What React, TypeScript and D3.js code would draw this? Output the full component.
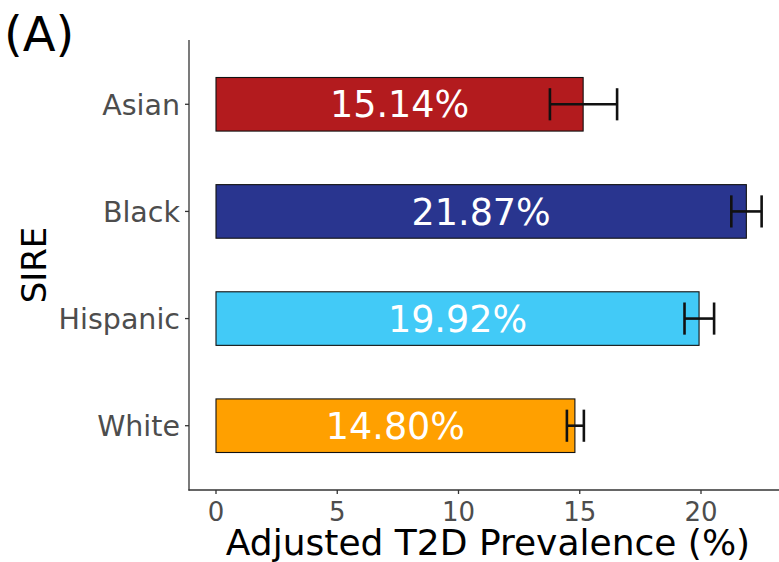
import React from "react";
import * as d3 from "d3";

const categories = ["Asian", "Black", "Hispanic", "White"];
const prevalence = [15.14, 21.87, 19.92, 14.8];
const ciLower = [13.77, 21.25, 19.32, 14.47];
const ciUpper = [16.54, 22.5, 20.54, 15.17];
const fills = ["#B31B1E", "#29358F", "#42CAF7", "#FFA000"];
const xTicks = [0, 5, 10, 15, 20];

const W = 779;
const H = 562;
const panel = { left: 189, right: 779, top: 40, bottom: 490 };
const FONT = "'DejaVu Sans', sans-serif";

export default function App() {
  const x = d3.scaleLinear().domain([0, 20]).range([216, 701]);
  const y = d3
    .scalePoint<string>()
    .domain(categories)
    .range([panel.top, panel.bottom])
    .padding(0.6);
  const step = y.step();
  const barH = step * 0.5;
  const capH = step * 0.3;

  return (
    <svg
      width={W}
      height={H}
      style={{ position: "fixed", left: 0, top: 0, background: "#fff" }}
      fontFamily={FONT}
    >
      <rect x={0} y={0} width={W} height={H} fill="#fff" />

      {/* bars */}
      {categories.map((c, i) => {
        const cy = y(c)!;
        return (
          <rect
            key={"bar" + c}
            x={x(0)}
            y={cy - barH / 2}
            width={x(prevalence[i]) - x(0)}
            height={barH}
            fill={fills[i]}
            stroke="#111"
            strokeWidth={1.1}
          />
        );
      })}

      {/* value labels */}
      {categories.map((c, i) => (
        <text
          key={"lab" + c}
          x={x(prevalence[i] / 2)}
          y={y(c)!}
          dy="0.36em"
          textAnchor="middle"
          fill="#fff"
          fontSize={36.5}
        >
          {prevalence[i].toFixed(2) + "%"}
        </text>
      ))}

      {/* confidence intervals */}
      {categories.map((c, i) => {
        const cy = y(c)!;
        const x0 = x(ciLower[i]);
        const x1 = x(ciUpper[i]);
        return (
          <g key={"err" + c} stroke="#111" strokeWidth={2.6} fill="none">
            <line x1={x0} x2={x1} y1={cy} y2={cy} />
            <line x1={x0} x2={x0} y1={cy - capH / 2} y2={cy + capH / 2} />
            <line x1={x1} x2={x1} y1={cy - capH / 2} y2={cy + capH / 2} />
          </g>
        );
      })}

      {/* axes */}
      <g stroke="#333" strokeWidth={1.3}>
        <line x1={panel.left} x2={panel.left} y1={panel.top} y2={panel.bottom + 0.6} />
        <line x1={panel.left - 0.6} x2={panel.right} y1={panel.bottom} y2={panel.bottom} />
        {categories.map((c) => (
          <line key={"yt" + c} x1={panel.left - 4} x2={panel.left} y1={y(c)!} y2={y(c)!} />
        ))}
        {xTicks.map((t) => (
          <line key={"xt" + t} x1={x(t)} x2={x(t)} y1={panel.bottom} y2={panel.bottom + 4} />
        ))}
      </g>

      {categories.map((c) => (
        <text
          key={"yl" + c}
          x={panel.left - 9}
          y={y(c)!}
          dy="0.36em"
          textAnchor="end"
          fill="#4D4D4D"
          fontSize={28.5}
        >
          {c}
        </text>
      ))}
      {xTicks.map((t) => (
        <text
          key={"xl" + t}
          x={x(t)}
          y={521}
          textAnchor="middle"
          fill="#4D4D4D"
          fontSize={26}
        >
          {t}
        </text>
      ))}

      {/* titles */}
      <text x={488} y={555} textAnchor="middle" fill="#000" fontSize={36}>
        Adjusted T2D Prevalence (%)
      </text>
      <text
        transform={`translate(46, ${(panel.top + panel.bottom) / 2}) rotate(-90)`}
        textAnchor="middle"
        fill="#000"
        fontSize={34}
      >
        SIRE
      </text>
      <text x={4} y={51} fill="#000" fontSize={48}>
        (A)
      </text>
    </svg>
  );
}
